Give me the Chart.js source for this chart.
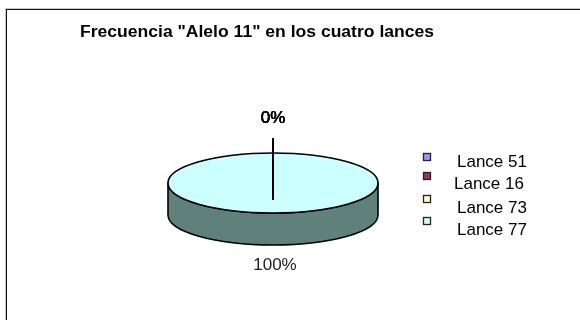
<!DOCTYPE html>
<html>
<head>
<meta charset="utf-8">
<script src="https://cdn.jsdelivr.net/npm/chart.js@4.4.0/dist/chart.umd.min.js"></script>
<style>
  html, body { margin: 0; padding: 0; background: #fff; }
  #wrap { width: 580px; height: 320px; }
</style>
</head>
<body>
<div id="wrap"><canvas id="myChart" width="580" height="320"></canvas></div>
<script>
(function () {
    "use strict";

    const titulo = 'Frecuencia "Alelo 11" en los cuatro lances';
    const lances = ['Lance 51', 'Lance 16', 'Lance 73', 'Lance 77'];
    const frecuencia = [0, 0, 0, 100];

    // top face colours and the darker shade used for the pie wall
    const colores = ['#9999FF', '#993366', '#FFFFCC', '#CCFFFF'];
    const sombras = ['#5C5C99', '#5C1F3D', '#99997A', '#5F807B'];

    const TILT = 30 / 105;   // vertical squash of the pie
    const DEPTH = 32;        // wall height in px
    const FONT = '"Liberation Sans", Arial, sans-serif';

    // legend rows (marker top, text baseline, text x)
    const legendRows = [
        { box: 153, base: 167, tx: 457 },
        { box: 172, base: 189, tx: 454 },
        { box: 195, base: 213, tx: 457 },
        { box: 217, base: 235, tx: 457 }
    ];

    function lowerHalf(s, e) {
        // pieces of [s, e] that face the viewer (sin > 0)
        const out = [];
        for (let n = -1; n <= 2; n++) {
            const a = Math.max(s, 2 * Math.PI * n);
            const b = Math.min(e, 2 * Math.PI * n + Math.PI);
            if (b > a) out.push([a, b]);
        }
        return out;
    }

    const pie3d = {
        id: 'pie3d',
        beforeDatasetsDraw(chart) {
            const ctx = chart.ctx;
            const arcs = chart.getDatasetMeta(0).data;
            const cx = arcs[0].x, cy = arcs[0].y, r = arcs[0].outerRadius;
            const ry = r * TILT;

            // wall of the pie
            ctx.save();
            ctx.lineWidth = 1.6;
            ctx.lineJoin = 'round';
            ctx.strokeStyle = '#000';
            arcs.forEach(function (arc, i) {
                if (arc.circumference <= 0) return;
                lowerHalf(arc.startAngle, arc.endAngle).forEach(function (seg) {
                    const a = seg[0], b = seg[1];
                    ctx.beginPath();
                    ctx.moveTo(cx + r * Math.cos(a), cy + ry * Math.sin(a));
                    ctx.lineTo(cx + r * Math.cos(a), cy + ry * Math.sin(a) + DEPTH);
                    ctx.ellipse(cx, cy + DEPTH, r, ry, 0, a, b);
                    ctx.lineTo(cx + r * Math.cos(b), cy + ry * Math.sin(b));
                    ctx.ellipse(cx, cy, r, ry, 0, b, a, true);
                    ctx.closePath();
                    ctx.fillStyle = sombras[i];
                    ctx.fill();
                    ctx.stroke();
                });
            });
            ctx.restore();

            // squash the top face that Chart.js draws next
            ctx.save();
            ctx.translate(cx, cy);
            ctx.scale(1, TILT);
            ctx.translate(-cx, -cy);
        },
        afterDatasetsDraw(chart) {
            const ctx = chart.ctx;
            ctx.restore();

            const arcs = chart.getDatasetMeta(0).data;
            const cx = arcs[0].x, cy = arcs[0].y, r = arcs[0].outerRadius;
            const ry = r * TILT;
            const total = frecuencia.reduce((s, v) => s + v, 0);

            ctx.save();
            ctx.lineWidth = 1.6;
            ctx.strokeStyle = '#000';
            ctx.beginPath();
            ctx.ellipse(cx, cy, r, ry, 0, 0, Math.PI * 2);
            ctx.stroke();

            // slice edges
            ctx.lineWidth = 2;
            arcs.forEach(function (arc) {
                const a = arc.startAngle;
                ctx.beginPath();
                ctx.moveTo(Math.round(cx), cy);
                ctx.lineTo(Math.round(cx + r * Math.cos(a)), cy + ry * Math.sin(a));
                ctx.stroke();
            });

            // percentage labels
            ctx.fillStyle = '#000';
            ctx.font = '17px ' + FONT;
            ctx.textAlign = 'center';
            ctx.textBaseline = 'alphabetic';
            arcs.forEach(function (arc, i) {
                const mid = (arc.startAngle + arc.endAngle) / 2;
                const pct = Math.round(frecuencia[i] / total * 100) + '%';
                const x = cx + r * Math.cos(mid) * 0.98;
                if (Math.sin(mid) < 0) {
                    const y = cy + ry * Math.sin(mid) - 30;
                    // the zero slices share one spot, so their labels stack up
                    ctx.lineWidth = 0.2;
                    ctx.strokeStyle = '#000';
                    ctx.strokeText(pct, x, y);
                    ctx.fillText(pct, x, y);
                    // leader line from the label into the pie
                    ctx.lineWidth = 2;
                    ctx.beginPath();
                    ctx.moveTo(Math.round(x), y + 15);
                    ctx.lineTo(Math.round(x), cy + 17);
                    ctx.stroke();
                } else {
                    ctx.fillStyle = '#222';
                    ctx.fillText(pct, x + 2, cy + ry * Math.sin(mid) + DEPTH + 25);
                    ctx.fillStyle = '#000';
                }
            });
            ctx.restore();
        },
        afterDraw(chart) {
            const ctx = chart.ctx;
            ctx.save();

            // chart frame
            ctx.lineWidth = 1;
            ctx.strokeStyle = '#c8c8c8';
            ctx.strokeRect(5.5, 8.5, 700, 500);
            ctx.strokeStyle = '#111';
            ctx.strokeRect(6.5, 9.5, 700, 500);

            // title, set a little wide
            ctx.fillStyle = '#000';
            ctx.font = 'bold 16px ' + FONT;
            ctx.textAlign = 'left';
            ctx.textBaseline = 'alphabetic';
            const w = ctx.measureText(titulo).width;
            ctx.save();
            ctx.translate(80, 37);
            ctx.scale(354 / w, 1);
            ctx.fillText(titulo, 0, 0);
            ctx.restore();

            // legend
            ctx.font = '17px ' + FONT;
            lances.forEach(function (name, i) {
                const row = legendRows[i];
                ctx.fillStyle = colores[i];
                ctx.fillRect(423, row.box, 8, 8);
                ctx.lineWidth = 1.3;
                ctx.strokeStyle = '#222';
                ctx.strokeRect(423.5, row.box + 0.5, 7, 7);
                ctx.fillStyle = '#000';
                ctx.fillText(name, row.tx, row.base);
            });
            ctx.restore();
        }
    };

    const ctx = document.getElementById('myChart').getContext('2d');
    new Chart(ctx, {
        type: 'pie',
        data: {
            labels: lances,
            datasets: [{
                data: frecuencia,
                backgroundColor: colores,
                borderWidth: 0,
                clip: false
            }]
        },
        options: {
            responsive: false,
            animation: false,
            devicePixelRatio: 1,
            layout: { padding: { left: 168, right: 202, top: 78, bottom: 32 } },
            plugins: {
                legend: { display: false },
                title: { display: false },
                tooltip: { enabled: false }
            }
        },
        plugins: [pie3d]
    });
})();
</script>
</body>
</html>
